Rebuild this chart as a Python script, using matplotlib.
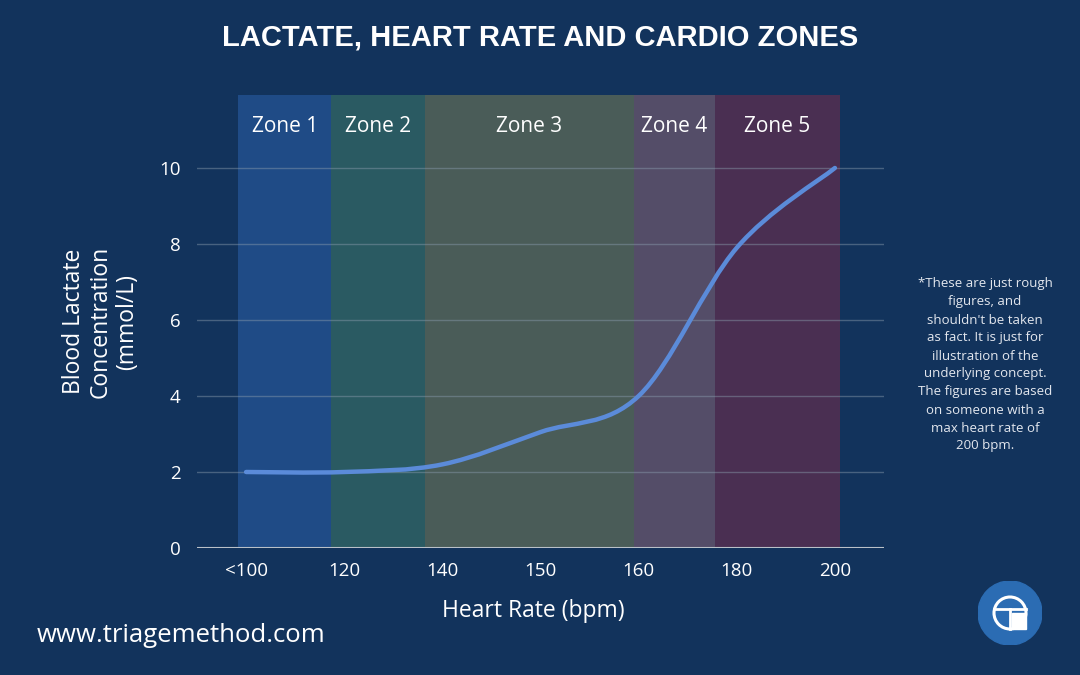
import numpy as np
import matplotlib.pyplot as plt
from matplotlib.path import Path
from matplotlib.patches import PathPatch, Circle, Rectangle

# data
heart_rate = ["<100", "120", "140", "150", "160", "180", "200"]
lactate = [2.0, 2.0, 2.2, 3.05, 4.0, 7.9, 10.0]
y_ticks = [0, 2, 4, 6, 8, 10]

zone_names = ["Zone 1", "Zone 2", "Zone 3", "Zone 4", "Zone 5"]
zone_edges = [-0.08, 0.87, 1.82, 3.95, 4.78, 6.05]
zone_colors = ["#1f4b86", "#2a5a62", "#4a5c58", "#544d68", "#4a2f52"]

note = ("*These are just rough\nfigures, and\nshouldn't be taken\nas fact. It is just for\n"
        "illustration of the\nunderlying concept.\nThe figures are based\non someone with a\n"
        "max heart rate of\n200 bpm.")

bg = "#12335c"
font = "Open Sans"
plt.rcParams["font.family"] = [font, "DejaVu Sans"]

fig = plt.figure(figsize=(10.8, 6.75), dpi=100)
fig.patch.set_facecolor(bg)

ax = fig.add_axes([197 / 1080, 127 / 675, 687 / 1080, 453 / 675])
ax.set_facecolor("none")
ax.set_xlim(-0.5, 6.5)
ax.set_ylim(0, 11.92)

# zone bands
for i, name in enumerate(zone_names):
    ax.axvspan(zone_edges[i], zone_edges[i + 1], color=zone_colors[i], lw=0, zorder=0)
    ax.text((zone_edges[i] + zone_edges[i + 1]) / 2, 11.1, name, ha="center", va="center",
            color="white", fontsize=15, fontweight="medium", zorder=4)

# grid
for y in y_ticks[1:]:
    ax.axhline(y, color="#8a9cad", alpha=0.45, lw=1, zorder=1)
ax.axhline(0, color="#b9c0c8", lw=1.5, zorder=2)

# smooth curve through the points (catmull-rom -> bezier)
x = np.arange(len(heart_rate), dtype=float)
pts = np.column_stack([x, lactate])
verts = [pts[0]]
codes = [Path.MOVETO]
n = len(pts)
for i in range(n - 1):
    p0 = pts[i - 1] if i > 0 else pts[i]
    p1, p2 = pts[i], pts[i + 1]
    p3 = pts[i + 2] if i + 2 < n else pts[i + 1]
    verts += [p1 + (p2 - p0) / 6, p2 - (p3 - p1) / 6, p2]
    codes += [Path.CURVE4] * 3
ax.add_patch(PathPatch(Path(verts, codes), fill=False, edgecolor="#5b8bd9", lw=3.2,
                       capstyle="round", zorder=3))

ax.set_xticks(x)
ax.set_xticklabels(heart_rate)
ax.set_yticks(y_ticks)
ax.tick_params(length=0, colors="white", labelsize=13.5)
ax.tick_params(axis="x", pad=10)
ax.tick_params(axis="y", pad=12)
for s in ax.spines.values():
    s.set_visible(False)

ax.set_xlabel("Heart Rate (bpm)", color="white", fontsize=16.5, fontweight="medium")
ax.xaxis.set_label_coords((533 - 197) / 687, -0.112)
ax.set_ylabel("Blood Lactate\nConcentration\n(mmol/L)", color="white", fontsize=16.5,
              fontweight="medium", labelpad=14, linespacing=1.15)

fig.text(0.5, 1 - 38 / 675, "LACTATE, HEART RATE AND CARDIO ZONES", ha="center", va="center",
         color="white", fontsize=21, fontweight="bold", family="Liberation Sans")

fig.text(985 / 1080, 1 - 365 / 675, note, ha="center", va="center", color="#e3e7ee",
         fontsize=9.5, linespacing=1.5)

fig.text(37 / 1080, 1 - 636 / 675, "www.triagemethod.com", ha="left", va="center",
         color="white", fontsize=18.5, fontweight="medium")

# logo
lax = fig.add_axes([978 / 1080, 30 / 675, 64 / 1080, 64 / 675])
lax.set_aspect("equal")
lax.set_xlim(-1, 1)
lax.set_ylim(-1, 1)
lax.axis("off")
lax.add_patch(Circle((0, 0), 1, color="#2b6cb3"))
lax.add_patch(Circle((0, 0), 0.5, fill=False, ec="white", lw=2.2))
lax.add_patch(Rectangle((0.06, -0.5), 0.44, 0.5, color="white"))
lax.plot([-0.5, 0.5], [0.12, 0.12], color="white", lw=2)
lax.plot([0, 0], [0.12, -0.5], color="white", lw=2)

fig.savefig("out.png", dpi=100, facecolor=bg)
